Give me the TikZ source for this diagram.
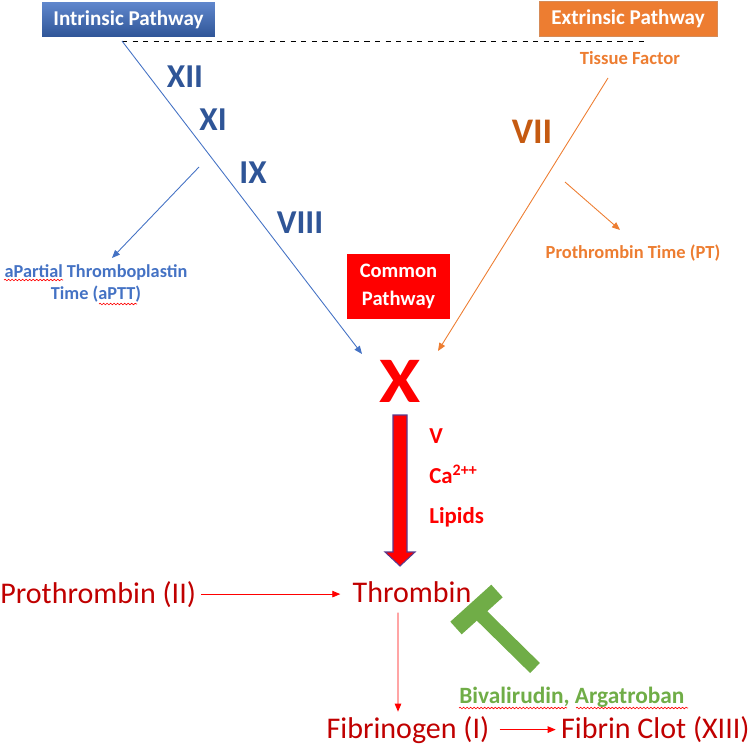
\documentclass[tikz,border=0pt]{standalone}
\usepackage{fontspec}
\setmainfont{Carlito}
\usepackage{tikz}
\usetikzlibrary{arrows.meta}
\usetikzlibrary{decorations.pathmorphing}

\definecolor{intblue}{HTML}{4472C4}
\definecolor{numblue}{HTML}{2F5597}
\definecolor{extorange}{HTML}{ED7D31}
\definecolor{viiorange}{HTML}{C55A11}
\definecolor{darkred}{HTML}{C00000}
\definecolor{inhgreen}{HTML}{70AD47}
\definecolor{arrowedge}{HTML}{5B3A8C}

\begin{document}
\begin{tikzpicture}[x=0.02cm,y=-0.02cm,
  every node/.style={inner sep=0pt},
  pathbox/.style={text=white,font=\bfseries\fontsize{12}{14}\selectfont,minimum height=0.7cm},
  factor/.style={font=\bfseries\fontsize{19}{22}\selectfont},
  product/.style={text=darkred,font=\fontsize{17.1}{19}\selectfont},
  cofactor/.style={text=red,font=\bfseries\fontsize{13}{15}\selectfont,anchor=base west},
  thin arrow/.style={-{Triangle[length=1.6mm,width=1.3mm]},line width=0.5pt},
  spell/.style={red,line width=0.35pt,decorate,decoration={snake,amplitude=0.45pt,segment length=2pt}}]
\useasboundingbox (0,0) rectangle (750,747);

\node[pathbox,minimum width=3.46cm,top color=intblue!85!white,bottom color=numblue] (intrinsic) at (128.5,19.5) {Intrinsic Pathway};
\node[pathbox,minimum width=3.56cm,fill=extorange,draw=viiorange!70,line width=0.4pt] (extrinsic) at (628,18.5) {Extrinsic Pathway};
\coordinate (intr) at (122,41);
\coordinate (extr) at (645,41);
\draw[dashed,line width=0.5pt] (intr) -- (extr);

\node[text=extorange,font=\bfseries\fontsize{10.6}{12}\selectfont] (tissue) at (630,58) {Tissue Factor};

\node[factor,text=numblue] (xii) at (185,77) {XII};
\node[factor,text=numblue] (xi) at (213,120) {XI};
\node[factor,text=numblue] (ix) at (253,173) {IX};
\node[factor,text=numblue] (viii) at (300,223) {VIII};
\node[text=viiorange,font=\bfseries\fontsize{20.5}{24}\selectfont] (vii) at (532,132) {VII};

\node[text=white,fill=red,minimum width=2.06cm,minimum height=1.3cm,align=center,
  font=\bfseries\fontsize{11.7}{16}\selectfont] (common) at (398.5,286.5) {Common\\Pathway};

\node[text=red,xscale=1.15,font=\bfseries\fontsize{37}{40}\selectfont] (xnode) at (400,381) {X};

\coordinate (bluetip) at (362,354);
\coordinate (orangetip) at (438,351);
\coordinate (tissueout) at (608,78);
\draw[intblue,thin arrow] (intr) -- (bluetip);
\draw[extorange,thin arrow] (tissueout) -- (orangetip);

\node[text=intblue,align=center,font=\bfseries\fontsize{10.4}{12.5}\selectfont] (aptt) at (96,283) {aPartial Thromboplastin\\Time (aPTT)};
\coordinate (apttfrom) at (199,167);
\coordinate (apttto) at (112,258);
\draw[intblue,thin arrow] (apttfrom) -- (apttto);
\draw[spell] (4,280) -- (63,280);
\draw[spell] (99,304) -- (137,304);

\node[text=extorange,font=\bfseries\fontsize{10.5}{12}\selectfont] (pt) at (633,253) {Prothrombin Time (PT)};
\coordinate (ptfrom) at (565,182);
\coordinate (ptto) at (620,230);
\draw[extorange,thin arrow] (ptfrom) -- (ptto);

\filldraw[fill=red,draw=arrowedge,line width=0.6pt] (393,415) -- (407,415) -- (407,552) -- (415,552)
  -- (400,566) -- (385,552) -- (393,552) -- cycle;
\node[cofactor] (v) at (429,443) {V};
\node[cofactor] (ca) at (429,483) {Ca\textsuperscript{2++}};
\node[cofactor] (lipids) at (429,523) {Lipids};

\node[product,anchor=base] (thr) at (412,602) {Thrombin};
\node[product,anchor=base west] (proth) at (0,603) {Prothrombin (II)};
\node[product,anchor=base] (fib) at (408,738) {Fibrinogen (I)};
\node[product,anchor=base east] (clot) at (750,738) {Fibrin Clot (XIII)};

\draw[red,thin arrow,shorten <=0.1cm] (proth.east) -- (proth.east -| thr.west) [shorten >=0.24cm];
\draw[red,thin arrow,shorten <=0.2cm,shorten >=0.08cm] ([xshift=-0.28cm]thr.south) -- ([xshift=-0.2cm]fib.north);
\draw[red,thin arrow,shorten <=0.2cm,shorten >=0.1cm] (fib.east) -- (fib.east -| clot.west);

\draw[inhgreen,line width=0.28cm] (476,610) -- (535,668);
\draw[inhgreen,line width=0.34cm] (456,628) -- (497,591);
\node[text=inhgreen,anchor=base west,font=\bfseries\fontsize{13.3}{15}\selectfont] (drugs) at (459,703) {Bivalirudin, Argatroban};
\draw[spell] (459,708) -- (567,708);
\draw[spell] (576,708) -- (688,708);
\end{tikzpicture}
\end{document}
